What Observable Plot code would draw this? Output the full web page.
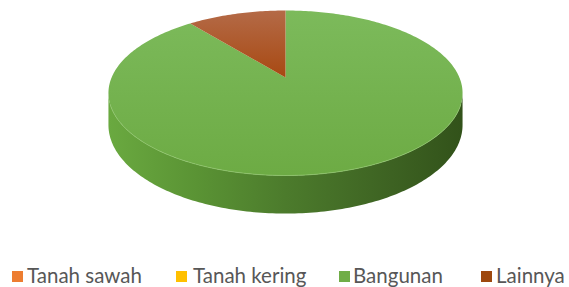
<!DOCTYPE html>
<html>
<head>
<meta charset="utf-8">
<script src="https://cdn.jsdelivr.net/npm/d3@7"></script>
<script src="https://cdn.jsdelivr.net/npm/@observablehq/plot@0.6"></script>
<style>
  html, body { margin: 0; padding: 0; background: #fff; }
  #wrap { width: 569px; height: 287px; position: relative; overflow: hidden; }
  #legend { position: absolute; left: 0; top: 0; width: 569px; height: 287px; pointer-events: none;
            font-family: Lato, "Open Sans", sans-serif; font-size: 20.5px; color: #575757; }
  .sw { position: absolute; width: 11px; height: 11px; top: 271px; }
  .lb { position: absolute; top: 262px; line-height: 26px; white-space: nowrap; }
</style>
</head>
<body>
<div id="wrap"><div id="chart"></div><div id="legend"></div></div>
<script>
// ---- data ----
const categories = ["Tanah sawah", "Tanah kering", "Bangunan", "Lainnya"];
const values = [0, 0, 89.2, 10.8];
const colors = ["#ed7d31", "#ffc000", "#70ad47", "#9e480e"];

// ---- styling (not data) ----
const topFills = ["#ed7d31", "#ffc000", "url(#gTopGreen)", "url(#gTopBrown)"];
const legendSwatchX = [12, 176, 339, 481];
const legendTextX = [27, 193, 353, 496];

// ---- 3D perspective pie geometry ----
const cx = 285, pa = 65.12, pb = 77, pc = -0.1879, R = 173.9, h0 = 30.9;
function proj(phiDeg, r = 1, drop = 0) {
  const phi = phiDeg * Math.PI / 180;
  const x = r * Math.sin(phi), z = -r * Math.cos(phi);
  const den = 1 + pc * z;
  return { px: cx + R * x / den, py: (pa * z + pb) / den + drop * h0 / den };
}

const total = d3.sum(values);
let acc = 0;
const slices = categories.map((cat, i) => {
  const start = acc / total * 360;
  acc += values[i];
  const end = acc / total * 360;
  return { cat, start, end, i };
});

function arcPts(a0, a1, drop = 0) {
  const n = Math.max(2, Math.ceil(Math.abs(a1 - a0)));
  return d3.range(n + 1).map(k => proj(a0 + (a1 - a0) * k / n, 1, drop));
}

// visible front wall range (silhouette where z = -pc)
const silA = Math.acos(pc) * 180 / Math.PI;
const frontStart = silA, frontEnd = 360 - silA;

const marks = [];
const wallShapes = [];
for (const s of slices) {
  if (s.end - s.start <= 0) continue;
  const a0 = Math.max(s.start, frontStart), a1 = Math.min(s.end, frontEnd);
  if (a1 <= a0) continue;
  const top = arcPts(a0, a1, 0);
  const bot = arcPts(a0, a1, 1).reverse();
  wallShapes.push({ s, pts: top.concat(bot) });
}
for (const w of wallShapes) {
  const sh = w.pts.map(p => ({ px: p.px + 2, py: p.py + 4 }));
  marks.push(Plot.line(sh, { x: "px", y: "py", fill: "#5e5e5e", stroke: "none", fillOpacity: 0.8, ariaLabel: "shadow" }));
}
for (const w of wallShapes) {
  marks.push(Plot.line(w.pts, { x: "px", y: "py", fill: w.s.i === 2 ? "url(#gWall)" : colors[w.s.i], stroke: "none" }));
}
for (const s of slices) {
  if (s.end - s.start <= 0) continue;
  const pts = [proj(0, 0)].concat(arcPts(s.start, s.end, 0)).concat([proj(0, 0)]);
  marks.push(Plot.line(pts, { x: "px", y: "py", fill: topFills[s.i], stroke: "none" }));
}
marks.push(Plot.line(arcPts(frontStart + 8, frontEnd - 8, 0), { x: "px", y: "py", stroke: "#8fc46c", strokeWidth: 1, strokeOpacity: 0.8 }));

const svg = Plot.plot({
  width: 569, height: 250, margin: 0,
  x: { domain: [0, 569], range: [0, 569], axis: null },
  y: { domain: [0, 250], range: [0, 250], axis: null },
  style: { background: "transparent", overflow: "visible" },
  marks
});

svg.insertAdjacentHTML("afterbegin", `
<defs>
  <linearGradient id="gTopGreen" gradientUnits="userSpaceOnUse" x1="0" y1="10" x2="0" y2="175">
    <stop offset="0" stop-color="#7cba5b"/>
    <stop offset="1" stop-color="#6dab44"/>
  </linearGradient>
  <linearGradient id="gTopBrown" gradientUnits="userSpaceOnUse" x1="0" y1="10" x2="0" y2="77">
    <stop offset="0" stop-color="#b46a47"/>
    <stop offset="1" stop-color="#a84912"/>
  </linearGradient>
  <linearGradient id="gWall" gradientUnits="userSpaceOnUse" x1="108" y1="0" x2="462" y2="0">
    <stop offset="0" stop-color="#6aa940"/>
    <stop offset="0.25" stop-color="#5a9334"/>
    <stop offset="0.5" stop-color="#4c7b2c"/>
    <stop offset="0.8" stop-color="#3d6222"/>
    <stop offset="1" stop-color="#32521a"/>
  </linearGradient>
  <filter id="blur" x="-20%" y="-50%" width="140%" height="200%">
    <feGaussianBlur stdDeviation="2.5"/>
  </filter>
</defs>`);
svg.querySelectorAll('g[aria-label="shadow"]').forEach(g => g.setAttribute("filter", "url(#blur)"));

document.getElementById("chart").appendChild(svg);

const lg = document.getElementById("legend");
categories.forEach((c, i) => {
  const sw = document.createElement("div");
  sw.className = "sw"; sw.style.left = legendSwatchX[i] + "px"; sw.style.background = colors[i];
  const lb = document.createElement("div");
  lb.className = "lb"; lb.style.left = legendTextX[i] + "px"; lb.textContent = c;
  lg.appendChild(sw); lg.appendChild(lb);
});
</script>
</body>
</html>
